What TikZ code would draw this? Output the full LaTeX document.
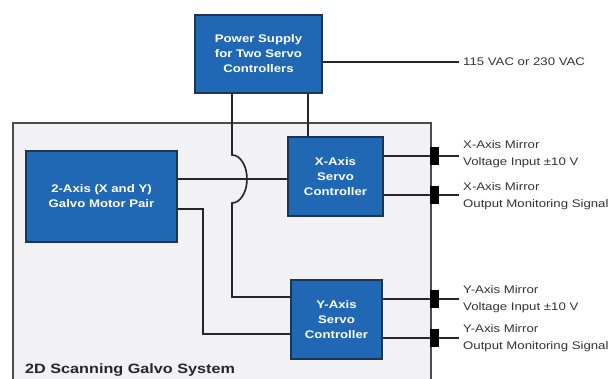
\documentclass[tikz,border=0pt]{standalone}
\usepackage{fontspec}
\setmainfont{Liberation Sans}[FakeStretch=1.2]
\usetikzlibrary{calc}
\definecolor{boxblue}{HTML}{2168B4}
\definecolor{boxedge}{HTML}{1B3552}
\definecolor{framefill}{HTML}{F2F2F5}
\definecolor{txtgray}{HTML}{333333}
\tikzset{
  bluebox/.style={draw=boxedge, line width=1.5pt, fill=boxblue, text=white,
    font=\fontsize{11}{15}\selectfont\bfseries, align=center, inner sep=0pt},
  wire/.style={draw=black!85, line width=1.6pt},
  plug/.style={fill=black, draw=none},
  outlabel/.style={text=txtgray, font=\fontsize{11}{17}\selectfont, align=left, anchor=west, inner sep=0pt}
}
\begin{document}
\begin{tikzpicture}[x=1pt,y=-1pt]
\useasboundingbox (0,0) rectangle (616,378);
\clip (0,0) rectangle (616,378);
% frame
\draw[fill=framefill, draw=black!70, line width=1.4pt] (13,123) rectangle (431,420);
\node[anchor=base west, inner sep=0pt, font=\fontsize{13.5}{16}\selectfont\bfseries, text=black!85] (title) at (25,373) {2D Scanning Galvo System};
% boxes
\node[bluebox, minimum width=127pt, minimum height=78pt] (ps) at (258.5,54) {Power Supply\\for Two Servo\\Controllers};
\node[bluebox, minimum width=151pt, minimum height=91pt] (galvo) at (101.5,196.5) {2-Axis (X and Y)\\Galvo Motor Pair};
\node[bluebox, minimum width=95pt, minimum height=79pt] (xs) at (335.5,176.5) {X-Axis\\Servo\\Controller};
\node[bluebox, minimum width=91pt, minimum height=79pt] (ys) at (336.5,319.5) {Y-Axis\\Servo\\Controller};
% labels
\node[outlabel] (vac) at (463,62) {115 VAC or 230 VAC};
\node[outlabel] (xin) at (463,154) {X-Axis Mirror\\Voltage Input ±10 V};
\node[outlabel] (xout) at (463,196) {X-Axis Mirror\\Output Monitoring Signal};
\node[outlabel] (yin) at (463,299) {Y-Axis Mirror\\Voltage Input ±10 V};
\node[outlabel] (yout) at (463,338) {Y-Axis Mirror\\Output Monitoring Signal};
% coordinates
\coordinate (h1) at (232,155);
\coordinate (yc) at (232,297);
\coordinate (pbx) at (308,0);
\coordinate (gx) at (203,209);
\coordinate (gy) at (203,334);
% wires
\draw[wire] (vac.west -| ps.east) -- (459,62);
\draw[wire] (ps.south -| h1) -- (h1) arc[start angle=90, end angle=-90, x radius=15pt, y radius=24pt] -- (yc) -- (yc -| ys.west);
\draw[wire] (ps.south -| pbx) -- (xs.north -| pbx);
\draw[wire] (galvo.east |- 0,179) -- (xs.west |- 0,179);
\draw[wire] (galvo.east |- gx) -- (gx) -- (gy) -- (gy -| ys.west);
\foreach \yy/\bx in {156/xs,195/xs,299/ys,338/ys}{
  \draw[wire] (\bx.east |- 0,\yy) -- (459,\yy);
  \fill[plug] (430,\yy-9) rectangle (439,\yy+9);
}
\end{tikzpicture}
\end{document}
